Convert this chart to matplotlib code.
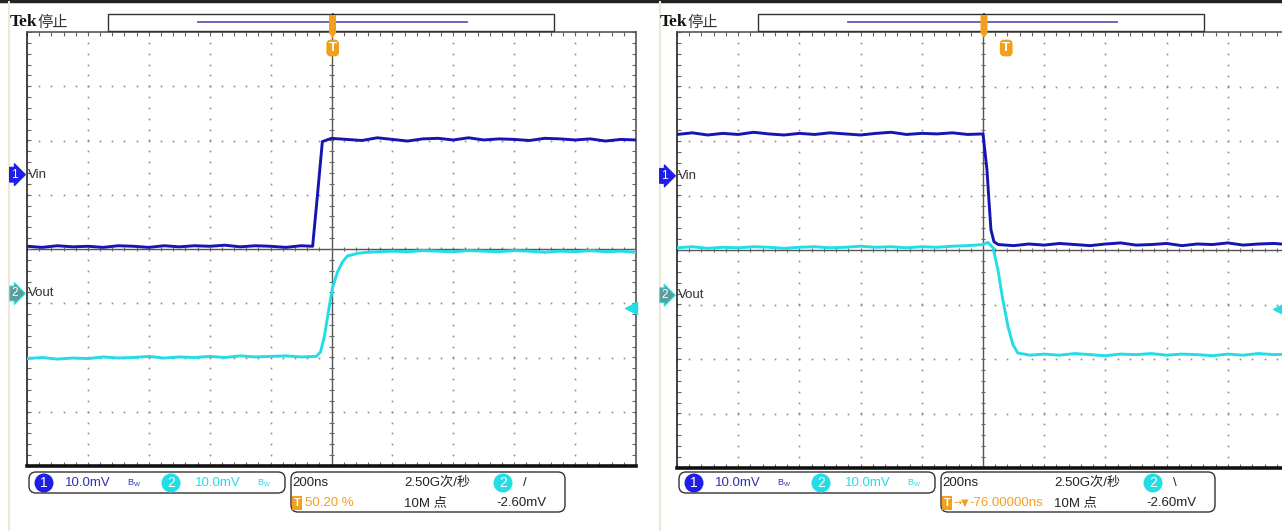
import matplotlib
matplotlib.use('Agg')
import matplotlib.pyplot as plt
import numpy as np
from matplotlib.patches import FancyBboxPatch, Rectangle, Polygon
from matplotlib.collections import LineCollection

plt.rcParams['font.family'] = ['Liberation Sans Narrow', 'Liberation Sans', 'Noto Sans CJK SC', 'DejaVu Sans']

W, H = 1282, 531

# values in divisions (10.0mV/div), time in ns (200ns/div)
# --- left capture (rising edge)
t_vin_a = [-1000, -950, -900, -850, -800, -750, -700, -650, -600, -550, -500, -450, -400, -350,
           -300, -250, -200, -150, -100, -62, -46, -30,
           0, 50, 100, 150, 200, 250, 300, 350, 400, 450, 500, 550, 600, 650, 700, 750, 800, 850,
           900, 950, 1000]
vin_a = [0.05, 0.03, 0.06, 0.04, 0.05, 0.03, 0.06, 0.05, 0.03, 0.06, 0.04, 0.06, 0.05, 0.07,
         0.04, 0.06, 0.05, 0.03, 0.06, 0.05, 1.00, 1.98,
         2.04, 2.02, 2.00, 2.05, 2.02, 1.99, 2.03, 2.04, 2.01, 2.05, 2.01, 2.03, 2.02, 2.00, 2.04,
         2.03, 2.01, 2.03, 1.99, 2.02, 2.01]
t_vout_a = [-1000, -950, -900, -850, -800, -750, -700, -650, -600, -550, -500, -450, -400, -350,
            -300, -250, -200, -150, -100, -50, -36, -23, -10, 3, 20, 36, 52, 85, 120, 161,
            200, 250, 300, 350, 400, 450, 500, 550, 600, 650, 700, 750, 800, 850, 900, 950, 1000]
vout_a = [-2.02, -2.00, -2.03, -2.01, -2.02, -1.99, -2.01, -2.00, -1.98, -2.01, -1.99, -2.00,
          -1.98, -2.00, -1.97, -1.99, -1.98, -1.97, -1.99, -1.98, -1.90, -1.60, -1.15, -0.72,
          -0.42, -0.24, -0.13, -0.08, -0.06, -0.05,
          -0.04, -0.05, -0.03, -0.04, -0.05, -0.03, -0.04, -0.05, -0.03, -0.04, -0.06, -0.04,
          -0.05, -0.03, -0.05, -0.04, -0.06]

# --- right capture (falling edge)
t_vin_b = [-1000, -950, -900, -850, -800, -750, -700, -650, -600, -550, -500, -450, -400, -350,
           -300, -250, -200, -150, -100, -50, 0, 13, 20, 26, 36, 50,
           100, 150, 200, 250, 300, 350, 400, 450, 500, 550, 600, 650, 700, 750, 800, 850, 900,
           950, 1000]
vin_b = [2.12, 2.15, 2.11, 2.14, 2.12, 2.16, 2.13, 2.11, 2.14, 2.12, 2.15, 2.13, 2.11, 2.14,
         2.16, 2.12, 2.14, 2.13, 2.15, 2.12, 2.13, 1.47, 0.86, 0.37, 0.15, 0.10,
         0.08, 0.11, 0.09, 0.12, 0.10, 0.08, 0.11, 0.13, 0.09, 0.10, 0.12, 0.08, 0.11, 0.10,
         0.13, 0.09, 0.11, 0.12, 0.10]
t_vout_b = [-1000, -950, -900, -850, -800, -750, -700, -650, -600, -550, -500, -450, -400, -350,
            -300, -250, -200, -150, -100, -50, 0, 16, 33, 49, 65, 82, 98, 114, 154,
            200, 250, 300, 350, 400, 450, 500, 550, 600, 650, 700, 750, 800, 850, 900, 950, 1000]
vout_b = [0.04, 0.06, 0.03, 0.05, 0.04, 0.06, 0.05, 0.03, 0.05, 0.06, 0.04, 0.05, 0.07, 0.05,
          0.06, 0.04, 0.06, 0.05, 0.07, 0.08, 0.10, 0.14, 0.04, -0.37, -0.92, -1.41, -1.74,
          -1.89, -1.93,
          -1.91, -1.93, -1.90, -1.92, -1.94, -1.91, -1.92, -1.90, -1.93, -1.91, -1.92, -1.94,
          -1.91, -1.93, -1.90, -1.92, -1.91]

ch_offset_a = [1.37, -0.82]
ch_offset_b = [1.36, -0.83]
ch_names = ['Vin', 'Vout']
trig_level_mv = -2.60
volts_per_div = 10.0
trig_time_a = 4      # 50.20 %
trig_time_b = 76     # -76.00000ns delay

C1 = '#1515b4'
C1_LIGHT = '#1e1ee6'
C2 = '#22dde6'
ORANGE = '#f2a01c'

fig = plt.figure(figsize=(W / 100, H / 100), dpi=100)
# overlay in pixel coords, drawn above the panels
bg = fig.add_axes([0, 0, 1, 1])
bg.set_xlim(0, W)
bg.set_ylim(H, 0)
bg.axis('off')
bg.set_zorder(10)
bg.patch.set_visible(False)

# separators and top bar
bg.plot([0, W], [1, 1], color='#222222', lw=2.5)
bg.plot([9, 9], [2, H], color='#ece8da', lw=1.5)
bg.plot([660, 660], [2, H], color='#ece8da', lw=1.5)

panels = [(27, 636, 32, 466), (677, 1289, 32, 468)]


def to_px(p, t, v):
    x0, x1, y0, y1 = p
    return x0 + (t + 1000) / 2000 * (x1 - x0), y0 + (4 - v) / 8 * (y1 - y0)


def graticule(ax):
    ax.set_xlim(-1000, 1000)
    ax.set_ylim(-4, 4)
    ax.set_xticks([])
    ax.set_yticks([])
    for s in ax.spines.values():
        s.set_color('#555555')
        s.set_linewidth(1.2)
    ax.spines['bottom'].set_color('#111111')
    ax.spines['bottom'].set_linewidth(2.6)
    ax.spines['left'].set_color('#222222')
    dy = np.arange(-4, 4.01, 0.2)
    dx = np.arange(-1000, 1000.1, 40)
    for gx in range(-800, 801, 200):
        if gx != 0:
            ax.plot(np.full(dy.size, gx), dy, ls='none', marker='s', ms=1.2, mec='none', mfc='#8a8a8a')
    for gy in range(-3, 4):
        if gy != 0:
            ax.plot(dx, np.full(dx.size, gy), ls='none', marker='s', ms=1.2, mec='none', mfc='#8a8a8a')
    ax.axhline(0, color='#555555', lw=1.0)
    ax.axvline(0, color='#555555', lw=1.0)
    segs = []
    for x in dx:
        segs += [[(x, -0.04), (x, 0.04)], [(x, 4), (x, 3.92)], [(x, -4), (x, -3.92)]]
    for y in dy:
        segs += [[(-7, y), (7, y)], [(-1000, y), (-986, y)], [(1000, y), (986, y)]]
    ax.add_collection(LineCollection(segs, colors='#666666', lw=0.8))


def chan_tag(x, y, num, fc, ec, name):
    bg.text(x, y, num, color='white', fontsize=8.5, ha='left', va='center',
            bbox=dict(boxstyle='rarrow,pad=0.12', fc=fc, ec=ec, lw=0.8))
    bg.text(x + 17, y, name, color='#333333', fontsize=9.5, ha='left', va='center')


def circ_num(x, y, num, fc):
    bg.text(x, y, num, color='white', fontsize=10, ha='center', va='center',
            bbox=dict(boxstyle='circle,pad=0.18', fc=fc, ec='none'))


traces = [(t_vin_a, vin_a, t_vout_a, vout_a, ch_offset_a, trig_time_a),
          (t_vin_b, vin_b, t_vout_b, vout_b, ch_offset_b, trig_time_b)]

for p, (t1, v1, t2, v2, offs, ttrig) in zip(panels, traces):
    x0, x1, y0, y1 = p
    ax = fig.add_axes([x0 / W, (H - y1) / H, (x1 - x0) / W, (y1 - y0) / H])
    ax.set_facecolor('white')
    graticule(ax)
    ax.plot(t1, v1, color=C1, lw=2.1, zorder=5)
    ax.plot(t2, v2, color=C2, lw=2.1, zorder=4)
    # trigger level marker
    lvl = offs[1] + trig_level_mv / volts_per_div
    xl, yl = to_px(p, 1000, lvl)
    bg.plot(min(xl - 5, W - 3), yl, marker='<', ms=8, color=C2, mec=C2)
    # channel tags
    _, ya = to_px(p, 0, offs[0])
    _, yb = to_px(p, 0, offs[1])
    chan_tag(x0 - 16, ya, '1', C1_LIGHT, C1_LIGHT, ch_names[0])
    chan_tag(x0 - 16, yb, '2', '#5b9c9c', '#3fe0e0', ch_names[1])
    # Tek label and record bar
    bg.text(x0 - 17, 22, 'Tek', fontsize=12.5, fontweight='bold', family='Liberation Serif',
            ha='left', va='center', color='#111111')
    bg.text(x0 + 10, 22, '停止', fontsize=11, family=['Noto Sans CJK SC'], ha='left', va='center',
            color='#333333')
    xc = (x0 + x1) / 2
    rx0, rx1 = x0 + 81, x0 + 527
    bg.add_patch(Rectangle((rx0, 14), rx1 - rx0, 17, fc='white', ec='#333333', lw=1.0, zorder=3))
    bg.plot([x0 + 171, x0 + 440], [22, 22], color='#5a5ab4', lw=1.3, zorder=4)
    bg.plot([xc + 1, xc + 1], [14, 31], color='#222222', lw=1.2, zorder=5)
    bg.add_patch(Polygon([[xc - 2.5, 15], [xc + 4.5, 15], [xc + 4.5, 33], [xc + 1, 38], [xc - 2.5, 33]],
                         closed=True, fc=ORANGE, ec='none', zorder=6))
    xt, _ = to_px(p, ttrig, 0)
    bg.text(xt, 48, 'T', color='white', fontsize=9.5, fontweight='bold', ha='center', va='center',
            bbox=dict(boxstyle='round,pad=0.18,rounding_size=0.35', fc=ORANGE, ec='none'), zorder=7)

    # bottom readout boxes
    bx = x0
    bg.add_patch(FancyBboxPatch((bx + 2, 472), 256, 21, boxstyle='round,pad=0,rounding_size=7',
                                fc='white', ec='#333333', lw=1.0))
    bg.add_patch(FancyBboxPatch((bx + 264, 472), 274, 40, boxstyle='round,pad=0,rounding_size=7',
                                fc='white', ec='#333333', lw=1.0))
    circ_num(bx + 17, 483, '1', C1_LIGHT)
    bg.text(bx + 38, 483, '10.0mV', color='#3030b8', fontsize=9.5, ha='left', va='center')
    bg.text(bx + 100, 483, r'$\mathregular{B_W}$', color='#3030b8', fontsize=6.5, ha='left', va='center')
    circ_num(bx + 144, 483, '2', C2)
    bg.text(bx + 168, 483, '10.0mV', color=C2, fontsize=9.5, ha='left', va='center')
    bg.text(bx + 230, 483, r'$\mathregular{B_W}$', color=C2, fontsize=6.5, ha='left', va='center')

    bg.text(bx + 265, 483, '200ns', color='#222222', fontsize=9.5, ha='left', va='center')
    bg.text(bx + 377, 483, '2.50G次/秒', color='#222222', fontsize=9.5, ha='left', va='center')
    circ_num(bx + 476, 483, '2', C2)
    bg.text(bx + 496, 483, '/' if p is panels[0] else '\\', color='#222222', fontsize=9.5,
            ha='left', va='center')
    bg.text(bx + 377, 503, '10M 点', color='#222222', fontsize=9.5, ha='left', va='center')
    bg.text(bx + 469, 503, '%.2fmV' % trig_level_mv, color='#222222', fontsize=9.5, ha='left', va='center')
    bg.text(bx + 270, 503, 'T', color='white', fontsize=8, fontweight='bold', ha='center', va='center',
            bbox=dict(boxstyle='square,pad=0.15', fc=ORANGE, ec='none'))

bg.text(27 + 278, 503, '50.20 %', color=ORANGE, fontsize=9.5, ha='left', va='center')
bg.text(677 + 276, 503, '→▼', color=ORANGE, fontsize=7, ha='left', va='center', family='DejaVu Sans')
bg.text(677 + 292, 503, '-76.00000ns', color=ORANGE, fontsize=9.5, ha='left', va='center')

fig.savefig('out.png', dpi=100)
